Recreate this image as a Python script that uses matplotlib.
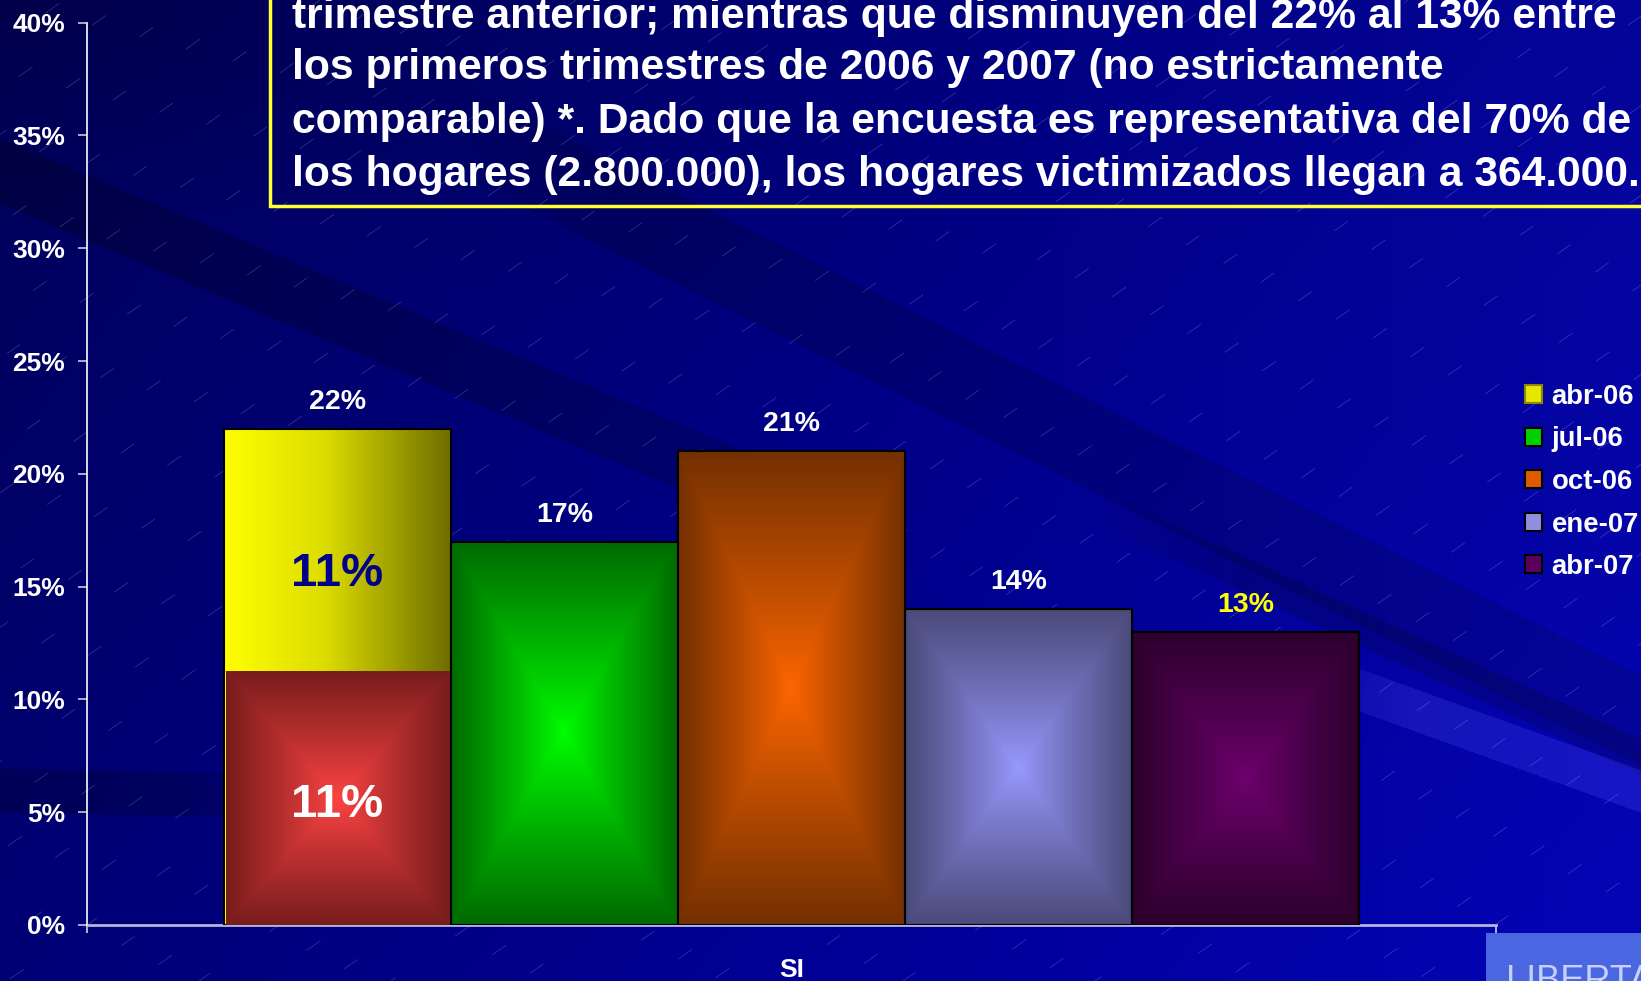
import numpy as np
import matplotlib
matplotlib.use('Agg')
import matplotlib.pyplot as plt
from matplotlib.patches import Rectangle
from matplotlib.colors import to_rgb

# ---------------- data ----------------
categories = ['SI']
series_names = ['abr-06', 'jul-06', 'oct-06', 'ene-07', 'abr-07']
series_values = [22, 17, 21, 14, 13]
series_labels = ['22%', '17%', '21%', '14%', '13%']
overlay_value = 11.25          # red overlay inside the first bar
overlay_label = '11%'
upper_label = '11%'
ytick_values = [0, 5, 10, 15, 20, 25, 30, 35, 40]
ytick_labels = ['0%', '5%', '10%', '15%', '20%', '25%', '30%', '35%', '40%']
box_lines = [
    'trimestre anterior; mientras que disminuyen del 22% al 13% entre',
    'los primeros trimestres de 2006 y 2007 (no estrictamente',
    'comparable) *. Dado que la encuesta es representativa del 70% de',
    'los hogares (2.800.000), los hogares victimizados llegan a 364.000.',
]

# ---------------- style ----------------
FONT = 'Liberation Sans'
plt.rcParams['font.family'] = [FONT, 'DejaVu Sans']
legend_colors = ['#e6e600', '#00d000', '#e05a00', '#9090e0', '#5a005a']
legend_edges = ['#8a8a00', 'black', 'black', 'black', 'black']
grad_center = ['#ffff00', '#00ff00', '#ff6600', '#9999ff', '#6e006e']
grad_edge = ['#6e6e00', '#006a00', '#743000', '#4a4a7a', '#2c002c']
label_colors = ['white', 'white', 'white', 'white', '#ffff00']

W, H = 1641, 981
fig = plt.figure(figsize=(W / 100, H / 100), dpi=100)

# ---------------- background ----------------
bg = fig.add_axes([0, 0, 1, 1], zorder=-10)
bg.set_xlim(0, W)
bg.set_ylim(H, 0)
bg.axis('off')
yy, xx = np.mgrid[0:H, 0:W].astype(float)
u = xx / W
v = yy / H
blue = 0.34 + 0.26 * u + 0.12 * v
blue = blue - 0.05 * np.clip(1 - (yy - 0.25 * xx) / 180, 0, 1) * np.clip(1 - xx / 1100, 0, 1)
rg = 0.04 * np.clip(u - 0.55, 0, 1)


def band_mask(x0, y0, slope, half, xa, xb, fade=160):
    d = (yy - (y0 + slope * (xx - x0))) / np.sqrt(1 + slope ** 2)
    inside = (np.abs(d) < half).astype(float)
    ramp = np.clip((xx - xa) / fade, 0, 1) * np.clip((xb - xx) / fade, 0, 1)
    return inside * ramp


blue -= 0.09 * band_mask(105, 215, 0.42, 30, -400, 900)
blue -= 0.08 * band_mask(680, 240, 0.50, 40, 450, W + 400)
blue -= 0.10 * band_mask(1300, 600, 0.46, 16, 1080, W + 400)
m = band_mask(1360, 690, 0.36, 20, 1250, W + 400)
blue += 0.08 * m
rg = rg + 0.07 * m
blue -= 0.09 * band_mask(0, 790, 0.02, 22, -400, 300, fade=120)

img = np.dstack([rg, rg, np.clip(blue, 0, 1)])
bg.imshow(np.clip(img, 0, 1), extent=(0, W, H, 0), aspect='auto', zorder=0, interpolation='bilinear')

# thin dashed diagonal lines
ang = np.deg2rad(35)
dx = H / np.tan(ang)
for i, c in enumerate(np.arange(-dx, W, 64)):
    phase = (i * 47) % 130
    bg.plot([c, c + dx], [H, 0], color='#c8c8ff', lw=0.5, alpha=0.28,
            linestyle=(phase, (24, 105)), zorder=2)

# text box
bg.add_patch(Rectangle((270, -20), 1500, 226, fill=False, edgecolor='#ffff33', lw=2.5, zorder=3))
baselines = [28, 78.5, 133.5, 186]
for line, yb in zip(box_lines, baselines):
    bg.text(292, yb, line, color='white', fontsize=30.7, fontweight='bold',
            va='baseline', ha='left', zorder=4)

# bottom-right logo box
bg.add_patch(Rectangle((1486, 933), 200, 60, facecolor='#4a66e0', edgecolor='none', zorder=3))
bg.text(1506, 964, 'LIBERTAD', color='#c8d0ff', fontsize=26, va='top', ha='left', zorder=4)

# ---------------- chart ----------------
ax_left, ax_right, ax_bottom, ax_top = 87, 1496, 925, 22.7
ax = fig.add_axes([ax_left / W, (H - ax_bottom) / H, (ax_right - ax_left) / W, (ax_bottom - ax_top) / H])
ax.patch.set_alpha(0)

n = len(series_values)
bw = 227 / (ax_right - ax_left)
offsets = (np.arange(n) - (n - 1) / 2) * bw
bars = ax.bar(offsets, series_values, width=bw, color=legend_colors,
              edgecolor=legend_edges, linewidth=1.5, zorder=3)


def box_gradient(c0, c1, res=200):
    a = np.linspace(-1, 1, res)
    X, Y = np.meshgrid(a, a)
    t = np.maximum(np.abs(X), np.abs(Y)) ** 0.9
    c0 = np.array(to_rgb(c0)); c1 = np.array(to_rgb(c1))
    return c0[None, None, :] * (1 - t[..., None]) + c1[None, None, :] * t[..., None]


def horiz_gradient(res=200):
    a = np.linspace(0, 1, res)
    r = np.interp(a, [0, 0.45, 1], [1.0, 0.86, 0.43])
    return np.dstack([np.tile(r, (10, 1)), np.tile(r, (10, 1)), np.zeros((10, res))])


for i, b in enumerate(bars):
    x0, y0 = b.get_x(), b.get_y()
    w, h = b.get_width(), b.get_height()
    g = horiz_gradient() if i == 0 else box_gradient(grad_center[i], grad_edge[i])
    im = ax.imshow(g, extent=(x0, x0 + w, y0, y0 + h), aspect='auto', zorder=3.2,
                   interpolation='bilinear')
    im.set_clip_path(b)
    ax.add_patch(Rectangle((x0, y0), w, h, fill=False, edgecolor='black', lw=1.5, zorder=3.4))
    ax.annotate(series_labels[i], xy=(x0 + w / 2, h), xytext=(0, 14.4),
                textcoords='offset points', ha='center', va='baseline',
                color=label_colors[i], fontsize=20.5, fontweight='bold', zorder=6)

# red overlay inside the first bar
inset = 2.0 / (ax_right - ax_left)
red = ax.bar(offsets[0] + inset / 2, overlay_value, width=bw - inset * 1.5, color='#b02a2a',
             edgecolor='none', zorder=3.6)
rb = red[0]
im = ax.imshow(box_gradient('#ff4444', '#781c1c'),
               extent=(rb.get_x(), rb.get_x() + rb.get_width(), 0, overlay_value),
               aspect='auto', zorder=3.7, interpolation='bilinear')
im.set_clip_path(rb)

ax.annotate(overlay_label, xy=(offsets[0], overlay_value / 2), xytext=(0, -5),
            textcoords='offset points', ha='center', va='center', color='white',
            fontsize=34, fontweight='bold', zorder=6)
ax.annotate(upper_label, xy=(offsets[0], (overlay_value + series_values[0]) / 2), xytext=(0, -17),
            textcoords='offset points', ha='center', va='center', color='#000088',
            fontsize=34, fontweight='bold', zorder=6)

ax.set_xlim(-0.5, 0.5)
ax.set_ylim(0, 40)

# axes styling
for s in ['top', 'right']:
    ax.spines[s].set_visible(False)
ax.spines['left'].set_color('#e8e8f0')
ax.spines['left'].set_linewidth(1.3)
ax.spines['bottom'].set_color('#b4b4dc')
ax.spines['bottom'].set_linewidth(2)
ax.spines['bottom'].set_zorder(2)

ax.set_yticks(ytick_values)
ax.set_yticklabels(ytick_labels)
ax.tick_params(axis='y', length=6.5, width=1.2, color='#c8c8d8', pad=9.4,
               labelsize=19, labelcolor='white', direction='out')
for t in ax.get_yticklabels():
    t.set_fontweight('bold')

ax.set_xticks([-0.5, 0.5])
ax.set_xticklabels([])
ax.set_xticks([0], minor=True)
ax.set_xticklabels(categories, minor=True)
ax.tick_params(axis='x', which='major', length=6, width=1.3, color='#c0c0e0', direction='out')
ax.tick_params(axis='x', which='minor', length=0, pad=24, labelsize=19, labelcolor='white')
for t in ax.get_xticklabels(minor=True):
    t.set_fontweight('bold')

leg = ax.legend(bars, series_names, loc='upper left', bbox_to_anchor=(1525 / W, 1 - 384 / H),
                bbox_transform=fig.transFigure, frameon=False,
                prop={'family': FONT, 'weight': 'bold', 'size': 19.8},
                labelcolor='white', handlelength=0.62, handleheight=0.62,
                handletextpad=0.35, labelspacing=0.6, borderpad=0, borderaxespad=0)

fig.savefig('out.png', dpi=100)
